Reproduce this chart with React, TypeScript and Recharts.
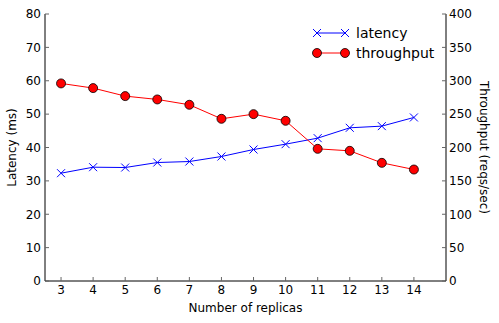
import React from 'react';
import { ComposedChart, Line, XAxis, YAxis } from 'recharts';

const replicas = [3, 4, 5, 6, 7, 8, 9, 10, 11, 12, 13, 14];
const latency = [32.3, 34.1, 34.0, 35.5, 35.8, 37.3, 39.4, 41.0, 42.8, 45.9, 46.4, 49.0];
const throughput = [296, 289, 277, 272, 264, 243, 250, 240, 198, 195, 177, 167];
const xTicks = [3, 4, 5, 6, 7, 8, 9, 10, 11, 12, 13, 14];
const latencyTicks = [0, 10, 20, 30, 40, 50, 60, 70, 80];
const throughputTicks = [0, 50, 100, 150, 200, 250, 300, 350, 400];

const data = replicas.map((r, i) => ({ replicas: r, latency: latency[i], throughput: throughput[i] }));

const FONT = 'DejaVu Sans, sans-serif';
const tickStyle = { fontSize: 12, fill: '#000', fontFamily: FONT };

function Cross(props: any) {
  const { cx, cy } = props;
  if (cx == null || cy == null) return null;
  const s = 4;
  return (
    <g stroke="#0000ff" strokeWidth={1}>
      <line x1={cx - s} y1={cy - s} x2={cx + s} y2={cy + s} />
      <line x1={cx - s} y1={cy + s} x2={cx + s} y2={cy - s} />
    </g>
  );
}

function Circle(props: any) {
  const { cx, cy } = props;
  if (cx == null || cy == null) return null;
  return <circle cx={cx} cy={cy} r={4.5} fill="#ff0000" stroke="#000" strokeWidth={0.8} />;
}

function LegendBox() {
  return (
    <svg width={130} height={45} style={{ fontFamily: FONT, display: 'block' }}>
      <line x1={8} y1={12} x2={36} y2={12} stroke="#0000ff" strokeWidth={1} />
      <Cross cx={8} cy={12} />
      <Cross cx={36} cy={12} />
      <text x={47} y={17} fontSize={14}>latency</text>
      <line x1={8} y1={32} x2={36} y2={32} stroke="#ff0000" strokeWidth={1} />
      <Circle cx={8} cy={32} />
      <Circle cx={36} cy={32} />
      <text x={47} y={37} fontSize={14}>throughput</text>
    </svg>
  );
}

export default function App() {
  return (
    <div style={{ position: 'absolute', left: 0, top: 0, width: 499, height: 323, background: '#fff' }}>
      <ComposedChart
        width={499}
        height={323}
        data={data}
        margin={{ top: 14, right: 0, bottom: 0, left: 0 }}
      >
        <XAxis
          dataKey="replicas"
          type="number"
          domain={[2.5, 14.5]}
          ticks={xTicks}
          allowDecimals={false}
          height={42}
          stroke="#000"
          tickSize={-4}
          tickMargin={8}
          tickLine={{ stroke: '#666' }}
          tick={tickStyle}
          label={{ value: 'Number of replicas', position: 'insideBottom', offset: 11, style: { fontSize: 12, fill: '#000', fontFamily: FONT } }}
        />
        <XAxis
          xAxisId="top"
          dataKey="replicas"
          type="number"
          orientation="top"
          domain={[2.5, 14.5]}
          ticks={xTicks}
          height={0}
          stroke="#000"
          tickSize={-4}
          tickLine={{ stroke: '#666' }}
          tick={() => <g />}
        />
        <YAxis
          yAxisId="left"
          domain={[0, 80]}
          ticks={latencyTicks}
          width={45}
          stroke="#000"
          tickSize={-4}
          tickMargin={8}
          tickLine={{ stroke: '#666' }}
          tick={tickStyle}
          label={{ value: 'Latency (ms)', angle: -90, position: 'insideLeft', offset: 12, style: { fontSize: 12, fill: '#000', fontFamily: FONT, textAnchor: 'middle' } }}
        />
        <YAxis
          yAxisId="right"
          orientation="right"
          domain={[0, 400]}
          ticks={throughputTicks}
          width={53}
          stroke="#000"
          tickSize={-4}
          tickMargin={7}
          tickLine={{ stroke: '#666' }}
          tick={tickStyle}
          label={{ value: 'Throughput (reqs/sec)', angle: 90, position: 'insideRight', offset: 15, style: { fontSize: 12, fill: '#000', fontFamily: FONT, textAnchor: 'middle' } }}
        />
        <Line
          yAxisId="left"
          dataKey="latency"
          stroke="#0000ff"
          strokeWidth={1}
          dot={<Cross />}
          activeDot={false}
          isAnimationActive={false}
        />
        <Line
          yAxisId="right"
          dataKey="throughput"
          stroke="#ff0000"
          strokeWidth={1}
          dot={<Circle />}
          activeDot={false}
          isAnimationActive={false}
        />
      </ComposedChart>
      <div style={{ position: 'absolute', left: 309, top: 21 }}>
        <LegendBox />
      </div>
    </div>
  );
}
